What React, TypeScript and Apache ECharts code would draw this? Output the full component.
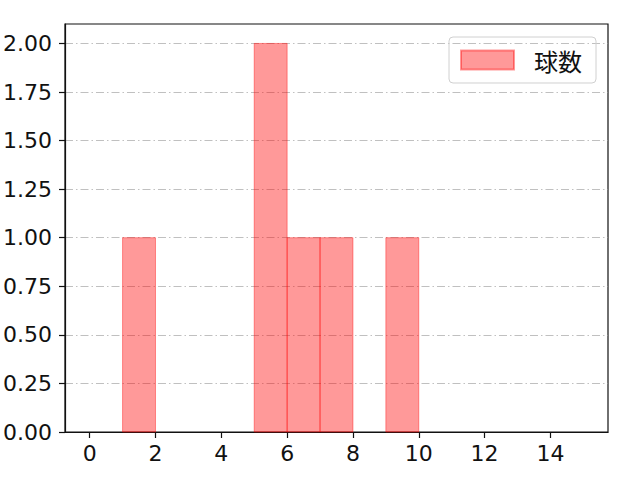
import React, { useEffect, useRef } from 'react';
import * as echarts from 'echarts';

// histogram bins: [start, end, count]
const binStarts: number[] = [1, 5, 6, 7, 9];
const binEnds: number[] = [2, 6, 7, 8, 10];
const binCounts: number[] = [1, 2, 1, 1, 1];
const xTicks: number[] = [0, 2, 4, 6, 8, 10, 12, 14];
const yTicks: number[] = [0, 0.25, 0.5, 0.75, 1, 1.25, 1.5, 1.75, 2];
const seriesName = '球数';

const FONT = '"DejaVu Sans", sans-serif';
const CJK_FONT = '"Noto Sans CJK JP", sans-serif';

const App: React.FC = () => {
  const chartRef = useRef<HTMLDivElement | null>(null);

  useEffect(() => {
    const chart = echarts.init(chartRef.current!, undefined, { renderer: 'svg' });

    const data = binStarts.map((s, i) => [s, binEnds[i], binCounts[i]]);

    const option: echarts.EChartsOption = {
      animation: false,
      backgroundColor: '#fff',
      grid: {
        left: 64,
        right: 32,
        top: 24,
        bottom: 48,
        show: true,
        borderColor: '#111',
        borderWidth: 1.2,
      },
      legend: {
        right: 44,
        top: 37,
        padding: [11, 14, 11, 11],
        itemWidth: 53,
        itemHeight: 19,
        borderColor: '#d0d0d0',
        borderWidth: 1,
        borderRadius: 4,
        data: [{ name: seriesName, icon: 'rect' }],
        textStyle: {
          fontFamily: CJK_FONT,
          fontSize: 24,
          color: '#111',
          padding: [0, 0, 0, 15],
        },
      },
      xAxis: {
        type: 'value',
        min: -0.75,
        max: 15.75,
        axisLine: { show: true, onZero: false, lineStyle: { color: '#111', width: 1.2 } },
        axisTick: {
          show: true,
          length: 6,
          customValues: xTicks,
          lineStyle: { color: '#111', width: 1.2 },
        },
        axisLabel: {
          customValues: xTicks,
          margin: 10,
          fontFamily: FONT,
          fontSize: 22,
          color: '#111',
        },
        splitLine: { show: false },
      },
      yAxis: {
        type: 'value',
        min: 0,
        max: 2.1,
        axisLine: { show: true, onZero: false, lineStyle: { color: '#111', width: 1.2 } },
        axisTick: {
          show: true,
          length: 6,
          customValues: yTicks,
          lineStyle: { color: '#111', width: 1.2 },
        },
        axisLabel: {
          customValues: yTicks,
          margin: 13,
          fontFamily: FONT,
          fontSize: 22,
          color: '#111',
          formatter: (v: number) => v.toFixed(2),
        },
        splitLine: {
          show: true,
          lineStyle: { color: '#b0b0b0', width: 0.8, type: [8, 3, 1.5, 3] },
        },
      },
      series: [
        {
          name: seriesName,
          type: 'custom',
          itemStyle: {
            color: 'rgba(255,0,0,0.4)',
            borderColor: 'rgba(255,0,0,0.4)',
            borderWidth: 1,
          },
          encode: { x: [0, 1], y: 2 },
          data,
          renderItem: (params: any, api: any) => {
            const p0 = api.coord([api.value(0), api.value(2)]);
            const p1 = api.coord([api.value(1), 0]);
            return {
              type: 'rect',
              shape: { x: p0[0], y: p0[1], width: p1[0] - p0[0], height: p1[1] - p0[1] },
              style: {
                fill: 'rgba(255,0,0,0.4)',
                stroke: 'rgba(255,0,0,0.4)',
                lineWidth: 1,
              },
            };
          },
        },
      ],
    };

    chart.setOption(option);

    return () => {
      chart.dispose();
    };
  }, []);

  return <div ref={chartRef} style={{ width: 640, height: 480, position: 'absolute', left: 0, top: 0 }} />;
};

export default App;
